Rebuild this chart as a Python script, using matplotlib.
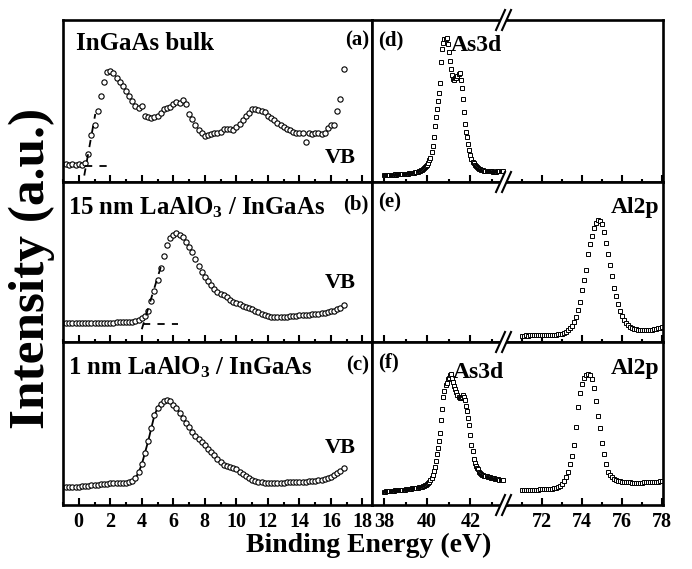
"""
XPS valence band and core-level spectra of LaAlO3 / InGaAs (six panels).
"""

import numpy as np
import matplotlib.pyplot as plt
from matplotlib.lines import Line2D
from matplotlib.patches import Polygon
from matplotlib.ticker import FixedLocator

plt.rcParams["font.family"] = ["Liberation Serif", "DejaVu Serif"]
plt.rcParams["font.weight"] = "bold"
plt.rcParams["mathtext.default"] = "regular"

# -- Valence band data (binding energy grid, eV) ----------------------------
vb_energy = np.arange(-0.8, 16.81, 0.2)

vb_bulk = [
    0.110, 0.105, 0.110, 0.105, 0.110, 0.105, 0.115, 0.170, 0.290, 0.350,
    0.440, 0.530, 0.620, 0.680, 0.685, 0.670, 0.645, 0.620, 0.590, 0.560,
    0.530, 0.500, 0.470, 0.460, 0.470, 0.405, 0.400, 0.395, 0.400, 0.410,
    0.425, 0.450, 0.455, 0.465, 0.480, 0.495, 0.490, 0.505, 0.480, 0.420,
    0.390, 0.355, 0.320, 0.300, 0.285, 0.290, 0.295, 0.300, 0.305, 0.310,
    0.325, 0.330, 0.325, 0.320, 0.340, 0.360, 0.385, 0.405, 0.425, 0.450,
    0.450, 0.445, 0.440, 0.430, 0.410, 0.395, 0.380, 0.365, 0.350, 0.340,
    0.330, 0.320, 0.310, 0.305, 0.300, 0.300, 0.250, 0.300, 0.295, 0.300,
    0.305, 0.295, 0.300, 0.335, 0.350, 0.355, 0.440, 0.510, 0.700,
]

vb_15nm = [
    0.117, 0.117, 0.116, 0.117, 0.118, 0.117, 0.118, 0.118, 0.119, 0.118,
    0.119, 0.119, 0.120, 0.120, 0.121, 0.122, 0.123, 0.124, 0.125, 0.126,
    0.127, 0.128, 0.131, 0.137, 0.148, 0.165, 0.195, 0.255, 0.320, 0.385,
    0.460, 0.540, 0.605, 0.650, 0.672, 0.680, 0.672, 0.655, 0.628, 0.597,
    0.560, 0.520, 0.475, 0.435, 0.405, 0.380, 0.355, 0.332, 0.315, 0.302,
    0.292, 0.280, 0.265, 0.253, 0.243, 0.235, 0.228, 0.222, 0.215, 0.205,
    0.195, 0.185, 0.176, 0.168, 0.162, 0.158, 0.157, 0.157, 0.157, 0.158,
    0.159, 0.160, 0.162, 0.164, 0.166, 0.168, 0.170, 0.172, 0.174, 0.176,
    0.178, 0.181, 0.184, 0.188, 0.192, 0.197, 0.204, 0.215, 0.232,
]

vb_1nm = [
    0.108, 0.110, 0.110, 0.112, 0.113, 0.115, 0.117, 0.119, 0.120, 0.122,
    0.124, 0.126, 0.128, 0.130, 0.132, 0.133, 0.134, 0.135, 0.136, 0.137,
    0.138, 0.146, 0.165, 0.200, 0.250, 0.320, 0.390, 0.470, 0.550, 0.595,
    0.620, 0.640, 0.645, 0.635, 0.615, 0.595, 0.565, 0.535, 0.505, 0.480,
    0.450, 0.425, 0.405, 0.385, 0.365, 0.345, 0.325, 0.305, 0.280, 0.265,
    0.248, 0.237, 0.230, 0.226, 0.220, 0.205, 0.190, 0.175, 0.163, 0.153,
    0.146, 0.141, 0.138, 0.136, 0.135, 0.135, 0.135, 0.136, 0.136, 0.137,
    0.138, 0.139, 0.140, 0.141, 0.142, 0.143, 0.144, 0.146, 0.147, 0.149,
    0.152, 0.156, 0.160, 0.165, 0.172, 0.183, 0.195, 0.208, 0.225,
]

# VB edge extrapolation lines (dashed)
bulk_edge_x, bulk_edge_y = [0.35, 1.05], [0.04, 0.42]
bulk_base_x, bulk_base_y = [0.40, 2.00], [0.10, 0.10]
lao_edge_x, lao_edge_y = [4.00, 5.30], [0.08, 0.50]
lao_base_x, lao_base_y = [4.10, 6.30], [0.115, 0.115]

# -- Core level data ---------------------------------------------------------
as_energy = np.arange(38.0, 43.51, 0.05)
al_energy = np.arange(71.0, 78.01, 0.1)

as3d_bulk = [
    0.043, 0.044, 0.043, 0.045, 0.044, 0.045, 0.045, 0.046, 0.045, 0.046,
    0.047, 0.046, 0.047, 0.048, 0.047, 0.048, 0.049, 0.049, 0.050, 0.050,
    0.051, 0.051, 0.052, 0.053, 0.053, 0.054, 0.055, 0.057, 0.058, 0.060,
    0.062, 0.064, 0.066, 0.069, 0.072, 0.075, 0.080, 0.085, 0.091, 0.098,
    0.107, 0.120, 0.135, 0.150, 0.185, 0.225, 0.280, 0.345, 0.400, 0.450,
    0.500, 0.550, 0.610, 0.740, 0.820, 0.860, 0.885, 0.880, 0.890, 0.850,
    0.800, 0.750, 0.700, 0.660, 0.635, 0.630, 0.640, 0.645, 0.655, 0.665,
    0.670, 0.630, 0.580, 0.510, 0.430, 0.360, 0.310, 0.275, 0.235, 0.200,
    0.165, 0.140, 0.125, 0.115, 0.105, 0.098, 0.092, 0.087, 0.083, 0.080,
    0.077, 0.075, 0.073, 0.071, 0.069, 0.068, 0.067, 0.066, 0.066, 0.065,
    0.065, 0.064, 0.064, 0.064, 0.064, 0.065, 0.065, 0.066, 0.066, 0.067,
    0.068,
]

as3d_1nm = [
    0.082, 0.080, 0.084, 0.083, 0.086, 0.084, 0.087, 0.085, 0.088, 0.087,
    0.089, 0.090, 0.089, 0.091, 0.092, 0.091, 0.093, 0.094, 0.095, 0.095,
    0.096, 0.097, 0.098, 0.099, 0.100, 0.101, 0.102, 0.103, 0.104, 0.105,
    0.106, 0.107, 0.108, 0.110, 0.111, 0.112, 0.115, 0.118, 0.121, 0.125,
    0.129, 0.134, 0.142, 0.153, 0.167, 0.185, 0.210, 0.235, 0.270, 0.310,
    0.350, 0.390, 0.440, 0.520, 0.590, 0.660, 0.700, 0.735, 0.750, 0.770,
    0.780, 0.800, 0.805, 0.780, 0.755, 0.730, 0.710, 0.695, 0.675, 0.665,
    0.655, 0.655, 0.665, 0.675, 0.665, 0.645, 0.610, 0.575, 0.535, 0.490,
    0.430, 0.370, 0.330, 0.285, 0.260, 0.240, 0.228, 0.218, 0.205, 0.198,
    0.192, 0.187, 0.183, 0.180, 0.177, 0.175, 0.173, 0.171, 0.169, 0.168,
    0.166, 0.165, 0.164, 0.162, 0.160, 0.158, 0.157, 0.156, 0.154, 0.153,
    0.152,
]

al2p_15nm = [
    0.040, 0.040, 0.041, 0.040, 0.041, 0.041, 0.042, 0.041, 0.042, 0.042,
    0.043, 0.043, 0.043, 0.044, 0.044, 0.045, 0.046, 0.047, 0.048, 0.050,
    0.053, 0.057, 0.064, 0.073, 0.086, 0.103, 0.125, 0.158, 0.200, 0.250,
    0.325, 0.390, 0.450, 0.550, 0.615, 0.660, 0.710, 0.745, 0.760, 0.755,
    0.740, 0.690, 0.620, 0.550, 0.480, 0.410, 0.340, 0.285, 0.235, 0.195,
    0.160, 0.135, 0.118, 0.105, 0.095, 0.088, 0.083, 0.080, 0.078, 0.077,
    0.076, 0.076, 0.076, 0.077, 0.077, 0.078, 0.080, 0.082, 0.085, 0.089,
    0.095,
]

al2p_1nm = [
    0.090, 0.092, 0.091, 0.093, 0.092, 0.094, 0.094, 0.095, 0.095, 0.096,
    0.097, 0.097, 0.098, 0.099, 0.100, 0.101, 0.103, 0.106, 0.111, 0.119,
    0.130, 0.148, 0.172, 0.205, 0.250, 0.300, 0.370, 0.480, 0.600, 0.690,
    0.745, 0.780, 0.800, 0.805, 0.800, 0.770, 0.720, 0.640, 0.545, 0.475,
    0.380, 0.310, 0.250, 0.205, 0.185, 0.172, 0.162, 0.155, 0.150, 0.146,
    0.143, 0.140, 0.139, 0.138, 0.138, 0.137, 0.137, 0.137, 0.137, 0.137,
    0.137, 0.138, 0.138, 0.138, 0.139, 0.139, 0.140, 0.142, 0.144, 0.147,
    0.150,
]

VB_TICKS = [0, 2, 4, 6, 8, 10, 12, 14, 16, 18]
AS_TICKS = [38, 40, 42]
AL_TICKS = [72, 74, 76, 78]

# -- Layout (figure fractions) -----------------------------------------------
fig = plt.figure(figsize=(6.92, 5.69), dpi=100)

ROWS = [(0.6801, 0.2847), (0.3989, 0.2812), (0.1125, 0.2865)]
LEFT = (0.0910, 0.4465)
RA = (0.5376, 0.1951)
RB = (0.7327, 0.2254)
SPINE_W = 1.9


def style(ax, xlim, major, minor, hide=(), labels=False):
    ax.set_xlim(*xlim)
    ax.set_ylim(0, 1)
    ax.set_yticks([])
    ax.xaxis.set_major_locator(FixedLocator(major))
    ax.xaxis.set_minor_locator(FixedLocator(minor))
    ax.tick_params(axis="x", which="major", direction="in", length=5,
                   width=1.5, labelsize=14.5, pad=5, labelbottom=labels)
    ax.tick_params(axis="x", which="minor", direction="in", length=2.5,
                   width=1.5)
    for s in ax.spines.values():
        s.set_linewidth(SPINE_W)
    for s in hide:
        ax.spines[s].set_visible(False)


circ = dict(ls="none", marker="o", ms=3.8, mfc="white", mec="black", mew=0.8)
sq = dict(ls="none", marker="s", ms=2.8, mfc="white", mec="black", mew=0.7)
dash = dict(color="black", lw=1.3, ls=(0, (4, 4)))

vb_axes, as_axes, al_axes = [], [], []
for i, (b, h) in enumerate(ROWS):
    last = i == len(ROWS) - 1
    ax = fig.add_axes([LEFT[0], b, LEFT[1], h])
    style(ax, (-1.0, 18.6), VB_TICKS, np.arange(-1, 19, 1), labels=last)
    vb_axes.append(ax)
    axa = fig.add_axes([RA[0], b, RA[1], h])
    style(axa, (37.44, 43.7), AS_TICKS, [39, 41, 43], hide=("right",),
          labels=last)
    as_axes.append(axa)
    axb = fig.add_axes([RB[0], b, RB[1], h])
    style(axb, (70.27, 78.05), AL_TICKS, [71, 73, 75, 77], hide=("left",),
          labels=last)
    al_axes.append(axb)

# -- Valence band panels -----------------------------------------------------
ax = vb_axes[0]
ax.plot(vb_energy, vb_bulk, **circ)
ax.plot(bulk_edge_x, bulk_edge_y, **dash)
ax.plot(bulk_base_x, bulk_base_y, **dash)
ax.text(0.042, 0.858, "InGaAs bulk", transform=ax.transAxes, fontsize=18,
        va="center", ha="left")

ax = vb_axes[1]
ax.plot(vb_energy, vb_15nm, **circ)
ax.plot(lao_edge_x, lao_edge_y, **dash)
ax.plot(lao_base_x, lao_base_y, **dash)
ax.text(0.016, 0.84, "15 nm LaAlO$_3$ / InGaAs", transform=ax.transAxes,
        fontsize=17.8, va="center", ha="left")

ax = vb_axes[2]
ax.plot(vb_energy, vb_1nm, color="black", lw=1.3)
ax.plot(vb_energy, vb_1nm, **circ)
ax.text(0.016, 0.845, "1 nm LaAlO$_3$ / InGaAs", transform=ax.transAxes,
        fontsize=17.8, va="center", ha="left")

for ax, lab, ylab in zip(vb_axes, ["(a)", "(b)", "(c)"], [0.875, 0.86, 0.855]):
    ax.text(0.99, ylab, lab, transform=ax.transAxes, fontsize=15,
            va="center", ha="right")
for ax, yvb in zip(vb_axes, [0.15, 0.37, 0.35]):
    ax.text(0.896, yvb, "VB", transform=ax.transAxes, fontsize=16,
            va="center", ha="center")

# -- Core level panels -------------------------------------------------------
as_axes[0].plot(as_energy, as3d_bulk, **sq)
al_axes[1].plot(al_energy, al2p_15nm, **sq)
as_axes[2].plot(as_energy, as3d_1nm, **sq)
al_axes[2].plot(al_energy, al2p_1nm, **sq)

for ax, lab in zip(as_axes, ["(d)", "(e)", "(f)"]):
    ax.text(0.045, 0.875, lab, transform=ax.transAxes, fontsize=15,
            va="center", ha="left")
as_axes[0].text(0.58, 0.845, "As3d", transform=as_axes[0].transAxes,
                fontsize=17, va="center", ha="left")
as_axes[2].text(0.6, 0.81, "As3d", transform=as_axes[2].transAxes,
                fontsize=17, va="center", ha="left")
al_axes[1].text(0.98, 0.84, "Al2p", transform=al_axes[1].transAxes,
                fontsize=17, va="center", ha="right")
al_axes[2].text(0.98, 0.835, "Al2p", transform=al_axes[2].transAxes,
                fontsize=17, va="center", ha="right")

# -- Axis break marks ----------------------------------------------------------
W, H = 692.0, 569.0
xb = RB[0] * W
for yb in [20, 182, 342, 505]:
    y0, y1 = 1 - (yb + 10) / H, 1 - (yb - 10) / H
    xs = [(xb - 11) / W, (xb - 2) / W, (xb - 5) / W, (xb + 4) / W]
    fig.patches.append(Polygon([(xs[0], y0), (xs[1], y1), (xs[3], y1),
                                (xs[2], y0)], closed=True,
                               transform=fig.transFigure, fc="white",
                               ec="none", zorder=5))
    for dx in (0, 6):
        fig.lines.append(Line2D([(xb - 11 + dx) / W, (xb - 2 + dx) / W],
                                [y0, y1], transform=fig.transFigure,
                                color="black", lw=1.5, zorder=6))

# -- Axis labels -------------------------------------------------------------
fig.text(0.533, 0.042, "Binding Energy (eV)", fontsize=20, ha="center",
         va="center")
fig.text(0.046, 0.529, "Intensity (a.u.)", fontsize=37, rotation=90,
         ha="center", va="center")

fig.savefig("out.png", dpi=100, facecolor="white")
plt.close(fig)
